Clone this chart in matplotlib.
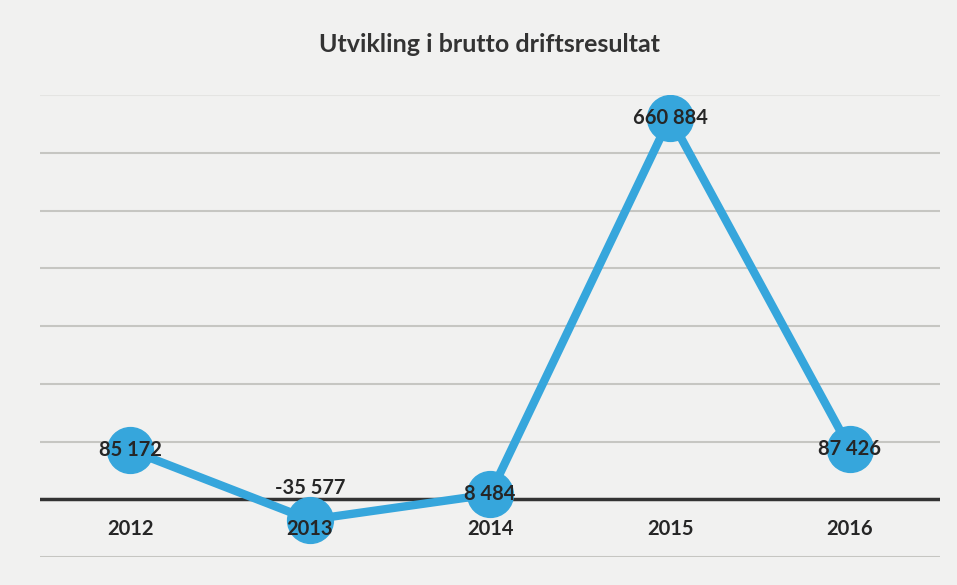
import matplotlib.pyplot as plt

# data
years = ['2012', '2013', '2014', '2015', '2016']
verdier = [85172, -35577, 8484, 660884, 87426]
etikett = ['85 172', '-35 577', '8 484', '660 884', '87 426']

blaa = '#36a6dc'
bg = '#f1f1f0'

fig = plt.figure(figsize=(9.57, 5.85), dpi=100)
fig.patch.set_facecolor(bg)

W, H = 957, 585
ax = fig.add_axes([40/W, (H-557)/H, 900/W, (557-95)/H])
ax.set_facecolor(bg)

x = list(range(len(years)))
ax.plot(x, verdier, color=blaa, lw=6, zorder=3, solid_capstyle='round')
ax.plot(x, verdier, 'o', color=blaa, ms=33, zorder=4)

ax.set_xlim(-0.5, len(years)-0.5)
ax.set_ylim(-100000, 700000)

# gridlinjer (den øverste er nesten borte i bildet)
for v in range(-100000, 700001, 100000):
    if v == 0:
        continue
    farge = '#e4e4e2' if v == 700000 else '#c6c6c2'
    ax.axhline(v, color=farge, lw=1.5, zorder=1)
ax.axhline(0, color='#333333', lw=2.5, zorder=2)

for s in ax.spines.values():
    s.set_visible(False)
ax.set_xticks([])
ax.set_yticks([])

fnt = dict(family='Lato', fontweight='bold', fontsize=14.5, color='#262626')
for i, (v, t) in enumerate(zip(verdier, etikett)):
    if v < 0:
        ax.text(i, v + 55000, t, ha='center', va='center', zorder=5, **fnt)
    else:
        ax.text(i, v, t, ha='center', va='center', zorder=5, **fnt)

# årstall under null-linja
for i, yr in enumerate(years):
    ax.text(i, -52000, yr, ha='center', va='center', zorder=5, **fnt)

fig.text(490/W, 1 - 45/H, 'Utvikling i brutto driftsresultat', ha='center',
         va='center', family='Lato', fontweight='bold', fontsize=18,
         color='#333333')

fig.savefig('out.png', dpi=100, facecolor=bg)
